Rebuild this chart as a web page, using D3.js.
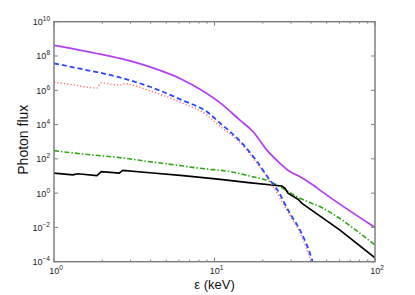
<!DOCTYPE html>
<html>
<head>
<meta charset="utf-8">
<script src="https://cdn.jsdelivr.net/npm/d3@7"></script>
<style>
body{margin:0;background:#fff;}
text{font-family:"Liberation Sans",Arial,sans-serif;}
</style>
</head>
<body>
<svg id="canvas" width="415" height="295"></svg>
<script>
// energy (keV) / photon flux pairs
let purpleE=[1,1.93,2.58,3.96,6.37,8.12,10.8,14.4,17.4,21.2,25.6,29.5,34.1,41.1,45.4,100];
let purpleF=[4.2e8,1.3e8,7.2e7,2.3e7,4e6,1.15e6,1.9e5,1.8e4,3.8e3,320,55,18,9.1,3,1.5,0.01];

let blueE=[1,1.52,2.47,3.96,6.37,8.97,10.8,14.4,18.4,22.2,24.2,29.5,34.1,40.5,42];
let blueF=[3.7e7,1.66e7,6.2e6,1.6e6,2.5e5,5.6e4,1.25e4,1.1e3,70,5.5,2,0.066,0.007,1.3e-4,4e-5];

let redE=[1,1.35,1.85,1.96,2.4,2.58,2.73,3.96,6.37,8.97,10.5,14.4,18.4,22.2,29.5,34.1,40];
let redF=[3e6,2e6,1.35e6,2.7e6,2.1e6,2e6,2.4e6,9.3e5,1.7e5,3.6e4,1e4,9e2,55,4.5,0.05,0.005,1e-4];

let greenE=[1,1.52,2.47,3.96,6.37,8.12,13.1,16.6,22.2,26.7,32.6,47.5,100];
let greenF=[300,190,123,68,38,28,16.6,10,4.7,1.9,0.62,0.13,9.3e-4];

let blackE=[1,1.31,1.4,1.85,1.97,2.55,2.68,3.96,6.37,10.5,14.4,16.3,26.3,27.5,28.7,33.1,35.1,60.5,100];
let blackF=[14.5,11.5,13.5,10.5,17.8,14.8,21.4,15.5,10.5,6.6,4.7,4.1,2.6,1.9,1.0,0.44,0.25,0.007,1.7e-4];

let xTicks=[1,10,100];
let yTicks=[1e-4,1e-2,1,1e2,1e4,1e6,1e8,1e10];

let svg=d3.select("#canvas");
let pL=54,pR=375,pT=21.7,pB=261.7;

let x=d3.scaleLog().domain([1,100]).range([pL,pR]);
let y=d3.scaleLog().domain([1e-4,1e10]).range([pB,pT]);

svg.append("clipPath").attr("id","clip").append("rect")
  .attr("x",pL).attr("y",pT).attr("width",pR-pL).attr("height",pB-pT);

let series=[
  {e:greenE,f:greenF,color:"#2ea812",w:1.6,dash:"5,2,1.5,2",smooth:true},
  {e:blackE,f:blackF,color:"#000",w:1.7,dash:null,smooth:false},
  {e:redE,f:redF,color:"#ff6a6a",w:1.3,dash:"1.3,2",smooth:true},
  {e:blueE,f:blueF,color:"#2848ff",w:1.8,dash:"5,3",smooth:true},
  {e:purpleE,f:purpleF,color:"#b440f2",w:1.8,dash:null,smooth:true}
];

let g=svg.append("g").attr("clip-path","url(#clip)");
series.forEach(s=>{
  let line=d3.line().x(d=>x(d[0])).y(d=>y(d[1]))
    .curve(s.smooth?d3.curveMonotoneX:d3.curveLinear);
  g.append("path").datum(s.e.map((v,i)=>[v,s.f[i]]))
    .attr("d",line).attr("fill","none").attr("stroke",s.color)
    .attr("stroke-width",s.w).attr("stroke-dasharray",s.dash);
});

// ticks inside on all four sides
let minor=[];
[1,10].forEach(b=>{for(let k=2;k<=9;k++)minor.push(b*k);});
let tg=svg.append("g").attr("stroke","#808080").attr("stroke-width",1);
minor.forEach(v=>{
  tg.append("line").attr("x1",x(v)).attr("x2",x(v)).attr("y1",pB).attr("y2",pB-2);
  tg.append("line").attr("x1",x(v)).attr("x2",x(v)).attr("y1",pT).attr("y2",pT+2);
});
xTicks.forEach(v=>{
  tg.append("line").attr("x1",x(v)).attr("x2",x(v)).attr("y1",pB).attr("y2",pB-4);
  tg.append("line").attr("x1",x(v)).attr("x2",x(v)).attr("y1",pT).attr("y2",pT+4);
});
yTicks.forEach(v=>{
  tg.append("line").attr("x1",pL).attr("x2",pL+4).attr("y1",y(v)).attr("y2",y(v));
  tg.append("line").attr("x1",pR).attr("x2",pR-4).attr("y1",y(v)).attr("y2",y(v));
});

svg.append("rect").attr("x",pL).attr("y",pT).attr("width",pR-pL).attr("height",pB-pT)
  .attr("fill","none").attr("stroke","#808080").attr("stroke-width",1.5);

function pow10(sel,v){
  let e=Math.round(Math.log10(v));
  sel.append("tspan").text("10");
  sel.append("tspan").attr("dy",-4).attr("font-size",6.5).text(e<0?"\u2212"+(-e):e);
}

yTicks.forEach(v=>{
  let t=svg.append("text").attr("x",pL-4).attr("y",y(v)+3.5)
    .attr("text-anchor","end").attr("font-size",9).attr("fill","#222");
  pow10(t,v);
});
xTicks.forEach(v=>{
  let t=svg.append("text").attr("x",x(v)+2).attr("y",pB+12.5)
    .attr("text-anchor","middle").attr("font-size",9).attr("fill","#222");
  pow10(t,v);
});

svg.append("text").attr("x",(pL+pR)/2).attr("y",289).attr("text-anchor","middle")
  .attr("font-size",13).attr("fill","#111").text("\u03b5 (keV)");
svg.append("text").attr("transform","translate(28,"+((pT+pB)/2-2)+") rotate(-90)")
  .attr("text-anchor","middle").attr("font-size",14).attr("fill","#111").text("Photon flux");
</script>
</body>
</html>
